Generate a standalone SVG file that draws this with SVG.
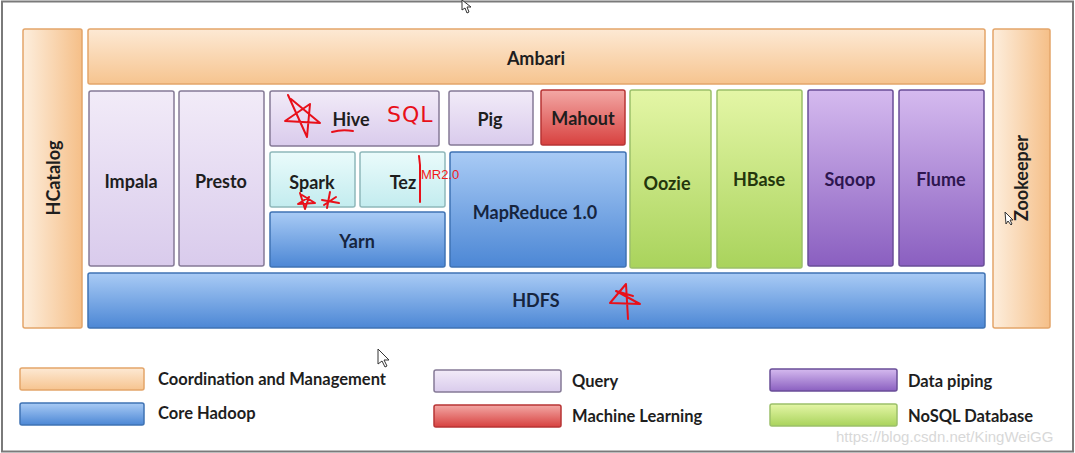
<svg xmlns="http://www.w3.org/2000/svg" width="1075" height="453" viewBox="0 0 1075 453">
<defs>
<linearGradient id="gOrH" x1="0" y1="0" x2="1" y2="0"><stop offset="0" stop-color="#fdeedd"/><stop offset="1" stop-color="#f5bf88"/></linearGradient>
<linearGradient id="gOrV" x1="0" y1="0" x2="0" y2="1"><stop offset="0" stop-color="#fde9d4"/><stop offset="1" stop-color="#f6c48f"/></linearGradient>
<linearGradient id="gLav" x1="0" y1="0" x2="0" y2="1"><stop offset="0" stop-color="#f2ebf8"/><stop offset="1" stop-color="#d9cbec"/></linearGradient>
<linearGradient id="gCy" x1="0" y1="0" x2="0" y2="1"><stop offset="0" stop-color="#eafbfb"/><stop offset="1" stop-color="#c3ecef"/></linearGradient>
<linearGradient id="gBl" x1="0" y1="0" x2="0" y2="1"><stop offset="0" stop-color="#a9cbf5"/><stop offset="1" stop-color="#4c87d5"/></linearGradient>
<linearGradient id="gRd" x1="0" y1="0" x2="0" y2="1"><stop offset="0" stop-color="#f3a8a5"/><stop offset="1" stop-color="#d7413f"/></linearGradient>
<linearGradient id="gGr" x1="0" y1="0" x2="0" y2="1"><stop offset="0" stop-color="#e4f6a6"/><stop offset="1" stop-color="#a9d35c"/></linearGradient>
<linearGradient id="gPu" x1="0" y1="0" x2="0" y2="1"><stop offset="0" stop-color="#d5baef"/><stop offset="1" stop-color="#8a5fc0"/></linearGradient>
</defs>
<style>
.or{stroke:#e3a56a;stroke-width:1.5}
.lav{fill:url(#gLav);stroke:#857a96;stroke-width:1.5}
.cy{fill:url(#gCy);stroke:#8fb8bb;stroke-width:1.5}
.bl{fill:url(#gBl);stroke:#3f73b4;stroke-width:1.5}
.rd{fill:url(#gRd);stroke:#b83535;stroke-width:1.5}
.gr{fill:url(#gGr);stroke:#9cc06a;stroke-width:1.5}
.pu{fill:url(#gPu);stroke:#6a4e98;stroke-width:1.5}
.t{font-family:Lato,"Open Sans","Liberation Sans",sans-serif;font-weight:bold;font-size:18px;text-anchor:middle;dominant-baseline:central;fill:#1e1e1e}
.tg{fill:#24360c}
.tp{fill:#2e1650}
.tb{fill:#16253f}
.lg{font-family:Lato,"Open Sans","Liberation Sans",sans-serif;font-weight:bold;font-size:16.5px;dominant-baseline:central;fill:#1e1e1e}
.red{fill:none;stroke:#e8101a;stroke-width:2;stroke-linecap:round;stroke-linejoin:round}
.cur{fill:#fff;stroke:#333;stroke-width:1}
</style>
<rect x="0" y="0" width="1075" height="453" fill="#ffffff"/>
<rect x="2" y="1.5" width="1071" height="450" fill="none" stroke="#7a7a7a" stroke-width="2"/>

<g id="hcatalog"><rect x="23" y="29" width="59" height="299" rx="2" class="or" fill="url(#gOrH)"/><text class="t" transform="translate(53,178) rotate(-90)">HCatalog</text></g>
<g id="ambari"><rect x="88" y="29" width="897" height="55" rx="2" class="or" fill="url(#gOrV)"/><text class="t" x="536" y="58">Ambari</text></g>
<g id="zookeeper"><rect x="993" y="29" width="57" height="299" rx="2" class="or" fill="url(#gOrH)"/><text class="t" transform="translate(1021,178) rotate(-90)">Zookeeper</text></g>

<g id="impala"><rect x="89" y="91" width="85" height="175" rx="2" class="lav"/><text class="t" x="131" y="181">Impala</text></g>
<g id="presto"><rect x="179" y="91" width="85" height="175" rx="2" class="lav"/><text class="t" x="221" y="181">Presto</text></g>
<g id="hive"><rect x="270" y="91" width="169" height="55" rx="2" class="lav"/><text class="t" x="351" y="119">Hive</text></g>
<g id="pig"><rect x="449" y="91" width="84" height="54" rx="2" class="lav"/><text class="t" x="490" y="119">Pig</text></g>
<g id="mahout"><rect x="541" y="90" width="84" height="55" rx="2" class="rd"/><text class="t" x="583" y="118">Mahout</text></g>
<g id="spark"><rect x="270" y="152" width="85" height="55" rx="2" class="cy"/><text class="t" x="312" y="182">Spark</text></g>
<g id="tez"><rect x="360" y="152" width="85" height="55" rx="2" class="cy"/><text class="t" x="403" y="182">Tez</text></g>
<g id="yarn"><rect x="270" y="212" width="175" height="55" rx="2" class="bl"/><text class="t tb" x="357" y="241">Yarn</text></g>
<g id="mapreduce"><rect x="450" y="152" width="176" height="115" rx="2" class="bl"/><text class="t tb" x="535" y="212">MapReduce 1.0</text></g>
<g id="oozie"><rect x="630" y="90" width="81" height="178" rx="2" class="gr"/><text class="t tg" x="667" y="183">Oozie</text></g>
<g id="hbase"><rect x="717" y="90" width="85" height="178" rx="2" class="gr"/><text class="t tg" x="759" y="179">HBase</text></g>
<g id="sqoop"><rect x="808" y="90" width="85" height="176" rx="2" class="pu"/><text class="t tp" x="850" y="179">Sqoop</text></g>
<g id="flume"><rect x="899" y="90" width="85" height="176" rx="2" class="pu"/><text class="t tp" x="941" y="179">Flume</text></g>
<g id="hdfs"><rect x="88" y="273" width="897" height="55" rx="2" class="bl"/><text class="t tb" x="536" y="300">HDFS</text></g>

<g id="legend">
<rect x="20" y="368" width="124" height="22" rx="2" class="or" fill="url(#gOrV)"/><text class="lg" x="158" y="379">Coordination and Management</text>
<rect x="20" y="403" width="124" height="22" rx="2" class="bl"/><text class="lg" x="158" y="413">Core Hadoop</text>
<rect x="434" y="370" width="127" height="22" rx="2" class="lav"/><text class="lg" x="572" y="381">Query</text>
<rect x="434" y="405" width="127" height="22" rx="2" class="rd"/><text class="lg" x="572" y="416">Machine Learning</text>
<rect x="770" y="369" width="127" height="22" rx="2" class="pu"/><text class="lg" x="908" y="381">Data piping</text>
<rect x="770" y="404" width="127" height="22" rx="2" class="gr"/><text class="lg" x="908" y="416">NoSQL Database</text>
</g>

<g id="annotations">
<path class="red" d="M288,95 L307,137 L310,104 L285,121 L320,123 L291,99"/>
<path class="red" d="M332,132 Q342,129 353,131"/>
<text x="387" y="122" font-family="'DejaVu Sans',sans-serif" font-size="22" fill="#e8101a" letter-spacing="1">SQL</text>
<path class="red" d="M300,193 L305,209 L309,197 L298,204 L315,203 L302,195"/>
<path class="red" d="M330,192 L327,208 M322,200 L339,203 M324,205 L336,197"/>
<path class="red" d="M419,156 L420,165 L420,202" stroke-width="1.3"/>
<text x="421" y="179" font-family="'Liberation Sans',Arial,sans-serif" font-size="13" fill="#f21a1a">MR2.0</text>
<path class="red" d="M626,284 L628,319 M626,284 L610,303 L640,304 L616,291 L633,296"/>
</g>

<g id="cursors">
<path class="cur" d="M462,0 L462,10 L465,8 L467,13 L469,12 L467,7 L471,7 Z"/>
<path class="cur" d="M378,349 L378,364 L382,361 L385,367 L387,366 L384,360 L389,360 Z"/>
<path class="cur" d="M1005,212 L1006,224 L1008,221 L1011,225 L1012,224 L1010,220 L1013,220 Z"/>
</g>

<text x="836" y="442" font-family="'Liberation Sans',Arial,sans-serif" font-size="15" fill="#d8d8d8">https://blog.csdn.net/KingWeiGG</text>
</svg>
